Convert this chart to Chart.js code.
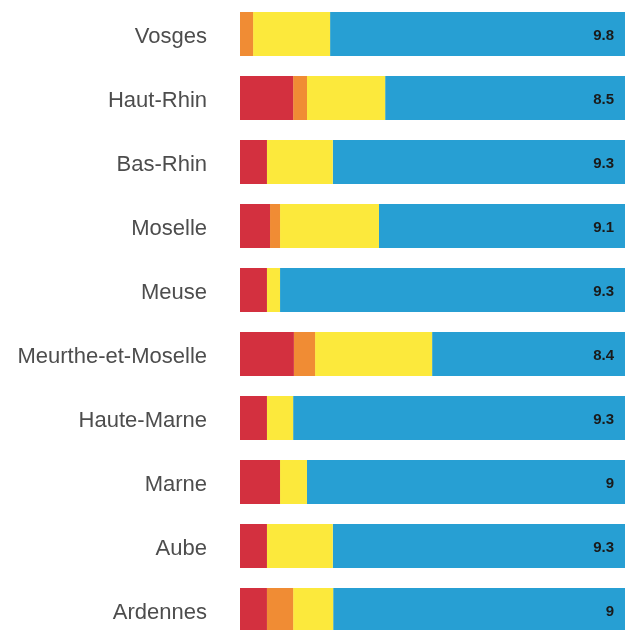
<!DOCTYPE html>
<html>
<head>
<meta charset="utf-8">
<script src="https://cdn.jsdelivr.net/npm/chart.js@4.4.1/dist/chart.umd.min.js"></script>
<style>
  html, body { margin: 0; padding: 0; background: #fff; overflow: hidden; width: 625px; height: 630px; }
  canvas { display: block; }
</style>
</head>
<body>
<canvas id="chart" width="625" height="642"></canvas>
<script>
// departments, top to bottom
const departments = ['Vosges', 'Haut-Rhin', 'Bas-Rhin', 'Moselle', 'Meuse',
  'Meurthe-et-Moselle', 'Haute-Marne', 'Marne', 'Aube', 'Ardennes'];

// segment shares (% of bar)
const redValues    = [0,    13.8, 7.0,  7.8,  7.0,  14.0, 7.0,  10.4, 7.0,  7.0];
const orangeValues = [3.4,  3.6,  0,    2.6,  0,    5.5,  0,    0,    0,    6.8];
const yellowValues = [20.0, 20.3, 17.1, 25.7, 3.4,  30.4, 6.8,  7.0,  17.1, 10.4];
const blueValues   = [76.6, 62.3, 75.9, 63.9, 89.6, 50.1, 86.2, 82.6, 75.9, 75.8];

// score shown at the end of each bar
const scores = ['9.8', '8.5', '9.3', '9.1', '9.3', '8.4', '9.3', '9', '9.3', '9'];

const scoreLabels = {
  id: 'scoreLabels',
  afterDatasetsDraw(chart) {
    const ctx = chart.ctx;
    const meta = chart.getDatasetMeta(3);
    ctx.save();
    ctx.font = 'bold 15px "Liberation Sans", Arial, sans-serif';
    ctx.fillStyle = '#1a1a1a';
    ctx.textAlign = 'right';
    ctx.textBaseline = 'middle';
    meta.data.forEach((bar, i) => {
      ctx.fillText(scores[i], bar.x - 11, bar.y + 2);
    });
    ctx.restore();
  }
};

new Chart(document.getElementById('chart'), {
  type: 'bar',
  data: {
    labels: departments,
    datasets: [
      { label: 'red', data: redValues, backgroundColor: '#d3303f' },
      { label: 'orange', data: orangeValues, backgroundColor: '#f08c34' },
      { label: 'yellow', data: yellowValues, backgroundColor: '#fce93c' },
      { label: 'blue', data: blueValues, backgroundColor: '#279fd3' }
    ]
  },
  options: {
    indexAxis: 'y',
    responsive: false,
    animation: false,
    layout: { padding: { top: 2, right: 0, bottom: 0, left: 0 } },
    datasets: {
      bar: { categoryPercentage: 1, barPercentage: 0.6875, borderWidth: 0 }
    },
    plugins: {
      legend: { display: false },
      tooltip: { enabled: false }
    },
    scales: {
      x: {
        stacked: true,
        display: false,
        min: 0,
        max: 100
      },
      y: {
        stacked: true,
        grid: { display: false, drawTicks: false },
        border: { display: false },
        ticks: {
          padding: 33,
          labelOffset: 3,
          color: '#4d4d4d',
          font: { family: '"Liberation Sans", Arial, sans-serif', size: 22 }
        },
        afterFit(scale) {
          // fixed label column, and no extra space above/below the bars
          scale.width = 240;
          scale.paddingTop = 0;
          scale.paddingBottom = 0;
        }
      }
    }
  },
  plugins: [scoreLabels]
});
</script>
</body>
</html>
